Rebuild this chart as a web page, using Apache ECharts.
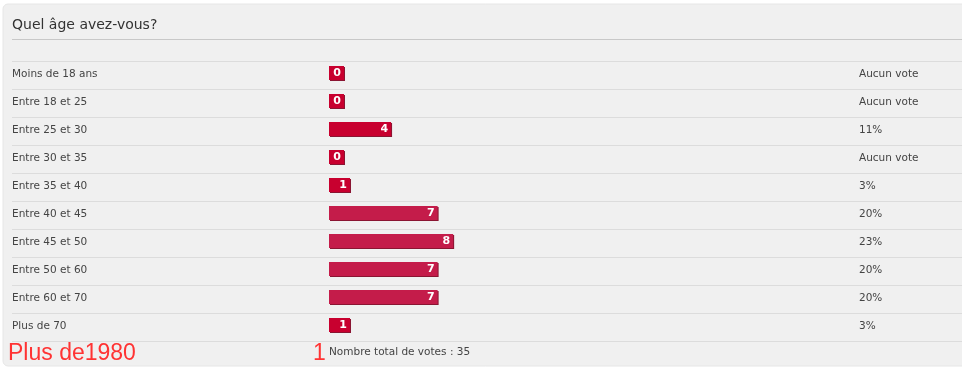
<!DOCTYPE html>
<html>
<head>
<meta charset="utf-8">
<script src="https://cdn.jsdelivr.net/npm/echarts@6/dist/echarts.min.js"></script>
<style>html,body{margin:0;padding:0;background:#fff}#c{width:962px;height:368px}</style>
</head>
<body>
<div id="c"></div>
<script>
const titleText = 'Quel âge avez-vous?';
const categories = ['Moins de 18 ans','Entre 18 et 25','Entre 25 et 30','Entre 30 et 35','Entre 35 et 40','Entre 40 et 45','Entre 45 et 50','Entre 50 et 60','Entre 60 et 70','Plus de 70'];
const votes = [0,0,4,0,1,7,8,7,7,1];
const pctLabels = ['Aucun vote','Aucun vote','11%','Aucun vote','3%','20%','23%','20%','20%','3%'];
const totalText = 'Nombre total de votes : 35';
const extraLabel = 'Plus de1980';
const extraValue = '1';

const font = 'DejaVu Sans';
const chart = echarts.init(document.getElementById('c'), null, {renderer:'canvas'});

function yCat(gridIndex, labels, extra) {
  return Object.assign({
    type:'category', gridIndex, data: labels, inverse:true,
    axisLine:{show:false}, axisTick:{show:false},
    axisLabel:{show:false}, splitLine:{show:false}
  }, extra || {});
}
function xVal(gridIndex, max) {
  return {type:'value', gridIndex, min:0, max:max, show:false};
}
const labelStyle = {show:true, color:'#444', fontFamily:font, fontSize:10.5, inside:true, margin:0, align:'left'};
const barLabel = {show:true, position:'insideRight', distance:3, color:'#fff', fontFamily:font, fontWeight:'bold', fontSize:11, verticalAlign:'middle'};

chart.setOption({
  animation:false,
  title:{text:titleText, left:12, top:18, padding:0, textStyle:{fontFamily:font, fontSize:14, fontWeight:'normal', color:'#333'}},
  graphic:[
    {type:'rect', z:-10, shape:{x:3, y:4, width:970, height:362, r:5}, style:{fill:'#f0f0f0', stroke:'#e6e6e6'}},
    {type:'line', z:-5, shape:{x1:12, y1:39.5, x2:962, y2:39.5}, style:{stroke:'#c8c8c8', lineWidth:1}},
    {type:'text', left:8, top:342, style:{text:extraLabel, fill:'#ff3333', font:'23px "Liberation Sans"'}},
    {type:'text', left:313, top:342, style:{text:extraValue, fill:'#ff3333', font:'23px "Liberation Sans"'}},
    {type:'text', left:329, top:347, style:{text:totalText, fill:'#444', font:'10.5px "DejaVu Sans"'}}
  ],
  grid:[
    {left:12, right:0, top:61, height:280},
    {left:329, right:3, top:59, height:280},
    {left:859, right:0, top:60, height:280},
    {left:12, right:0, top:60, height:280}
  ],
  xAxis:[xVal(0,1), xVal(1,40.6), xVal(2,1), xVal(3,1)],
  yAxis:[
    yCat(0, categories, {splitLine:{show:true, lineStyle:{color:'#dcdcdc', width:1}}}),
    yCat(1, categories),
    yCat(2, categories, {axisLabel:Object.assign({}, labelStyle, {formatter:(v,i)=>pctLabels[i]})}),
    yCat(3, categories, {axisLabel:labelStyle})
  ],
  series:[
    {type:'bar', xAxisIndex:1, yAxisIndex:1, barWidth:14, barMinHeight:21,
      data: votes.map(v => v===0 ? '-' : v),
      itemStyle:{color:(p)=> (p.value/35 >= 0.2 ? '#c41c4a' : '#c8002f'), shadowColor:'#8a1532', shadowOffsetX:1, shadowOffsetY:1, shadowBlur:0},
      label:barLabel
    },
    {type:'bar', xAxisIndex:1, yAxisIndex:1, barWidth:14, barMinHeight:15, barGap:'-100%',
      data: votes.map(v => v===0 ? 0 : '-'),
      itemStyle:{color:'#c8002f', shadowColor:'#8a1532', shadowOffsetX:1, shadowOffsetY:1, shadowBlur:0},
      label:barLabel
    }
  ]
});
</script>
</body>
</html>
